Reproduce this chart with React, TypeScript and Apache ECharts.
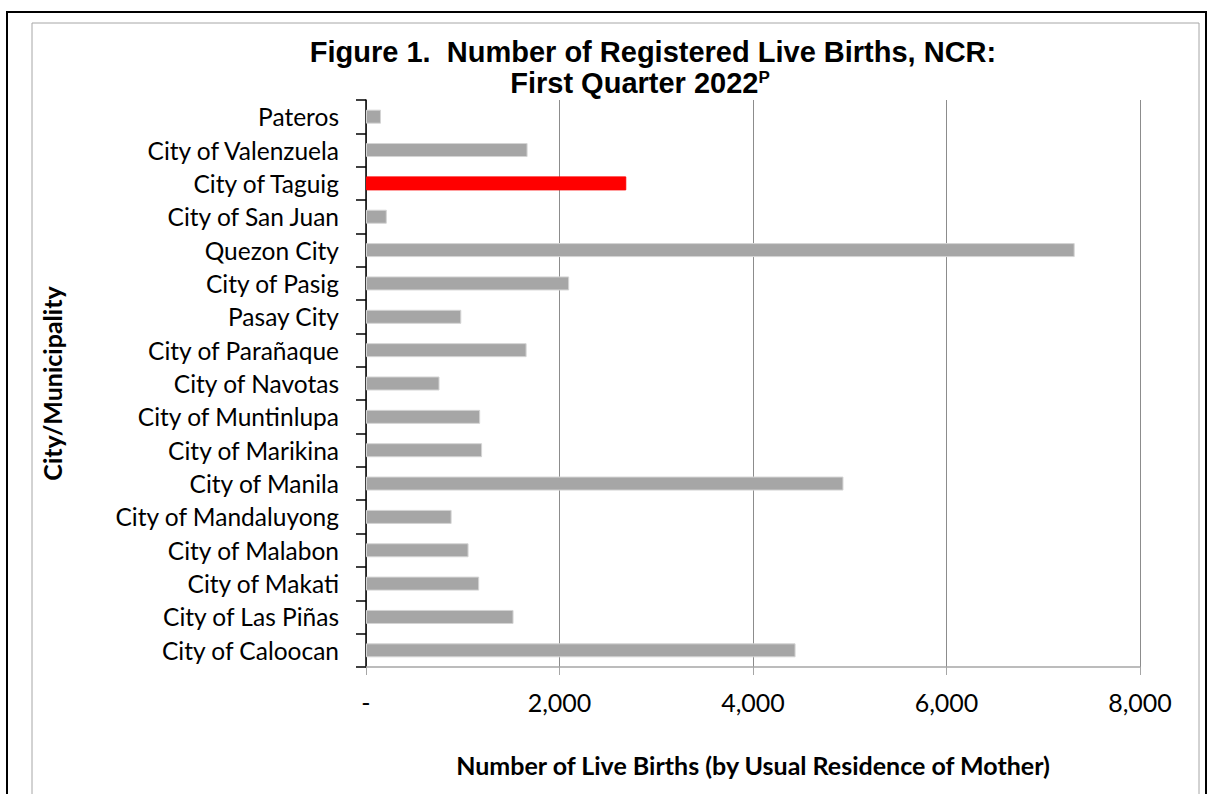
import React, { useEffect, useRef } from "react";
import * as echarts from "echarts";

const categories = [
  "City of Caloocan",
  "City of Las Piñas",
  "City of Makati",
  "City of Malabon",
  "City of Mandaluyong",
  "City of Manila",
  "City of Marikina",
  "City of Muntinlupa",
  "City of Navotas",
  "City of Parañaque",
  "Pasay City",
  "City of Pasig",
  "Quezon City",
  "City of San Juan",
  "City of Taguig",
  "City of Valenzuela",
  "Pateros",
];

const births = [4440, 1525, 1170, 1060, 885, 4935, 1200, 1180, 760, 1660, 985, 2100, 7325, 215, 2690, 1670, 155];

const highlighted = "City of Taguig";

const xTicks = [0, 2000, 4000, 6000, 8000];

const titleLine1 = "Figure 1.  Number of Registered Live Births, NCR:";
const titleLine2 = "First Quarter 2022";
const titleSup = "P";
const xAxisTitle = "Number of Live Births (by Usual Residence of Mother)";
const yAxisTitle = "City/Municipality";

export default function App() {
  const ref = useRef<HTMLDivElement>(null);
  useEffect(() => {
    document.body.style.margin = "0";
    if (!ref.current) return;
    const chart = echarts.init(ref.current, null, { renderer: "svg" });
    const labelFont = "Lato, 'Open Sans', sans-serif";
    chart.setOption({
      animation: false,
      backgroundColor: "#ffffff",
      grid: { left: 366, right: 68, top: 100, bottom: 127, containLabel: false },
      graphic: [
        {
          type: "rect",
          shape: { x: 7, y: 12, width: 1199, height: 820 },
          style: { fill: "none", stroke: "#000000", lineWidth: 2 },
          silent: true,
        },
        {
          type: "rect",
          shape: { x: 32, y: 23, width: 1167, height: 820 },
          style: { fill: "none", stroke: "#a6a6a6", lineWidth: 1 },
          silent: true,
        },
        {
          type: "text",
          x: 653,
          y: 52,
          style: {
            text: titleLine1,
            fill: "#000",
            font: "bold 29px 'Liberation Sans', Arial, sans-serif",
            textAlign: "center",
            textVerticalAlign: "middle",
          },
        },
        {
          type: "text",
          x: 640,
          y: 83,
          style: {
            text: titleLine2 + "{sup|" + titleSup + "}",
            fill: "#000",
            font: "bold 29px 'Liberation Sans', Arial, sans-serif",
            textAlign: "center",
            textVerticalAlign: "middle",
            rich: {
              sup: {
                fontSize: 17,
                fontWeight: "bold",
                fontFamily: "'Liberation Sans', Arial, sans-serif",
                verticalAlign: "top",
                padding: [0, 0, 12, 0],
                fill: "#000",
              },
            },
          },
        },
      ],
      xAxis: {
        type: "value",
        min: 0,
        max: 8000,
        interval: 2000,
        name: xAxisTitle,
        nameLocation: "middle",
        nameGap: 85,
        nameTextStyle: { fontFamily: labelFont, fontWeight: "bold", fontSize: 25, color: "#000" },
        axisLine: { show: true, lineStyle: { color: "#a6a6a6", width: 1.5 } },
        axisTick: { show: true, length: 8, lineStyle: { color: "#a6a6a6" } },
        splitLine: { show: true, lineStyle: { color: "#8c8c8c", width: 1 } },
        axisLabel: {
          margin: 22,
          fontFamily: labelFont,
          fontSize: 25,
          color: "#000",
          customValues: xTicks,
          formatter: (v: number) => (v === 0 ? "-" : v.toLocaleString("en-US")),
        },
      },
      yAxis: {
        type: "category",
        data: categories,
        name: yAxisTitle,
        nameLocation: "middle",
        nameGap: 302,
        nameTextStyle: { fontFamily: labelFont, fontWeight: "bold", fontSize: 25, color: "#000" },
        axisLine: { show: true, lineStyle: { color: "#000000", width: 1.5 } },
        axisTick: { show: true, length: 10, lineStyle: { color: "#000000", width: 1.5 } },
        axisLabel: { margin: 27, fontFamily: labelFont, fontSize: 24.5, color: "#000" },
        splitLine: { show: false },
      },
      series: [
        {
          type: "bar",
          barCategoryGap: "58%",
          data: births.map((v, i) => ({
            value: v,
            itemStyle: {
              color: categories[i] === highlighted ? "#ff0000" : "#a6a6a6",
              borderColor: categories[i] === highlighted ? "#ff0000" : "#d4d4d4",
              borderWidth: 1,
            },
          })),
        },
      ],
    });
    return () => chart.dispose();
  }, []);
  return <div ref={ref} style={{ width: 1208, height: 794 }} />;
}
